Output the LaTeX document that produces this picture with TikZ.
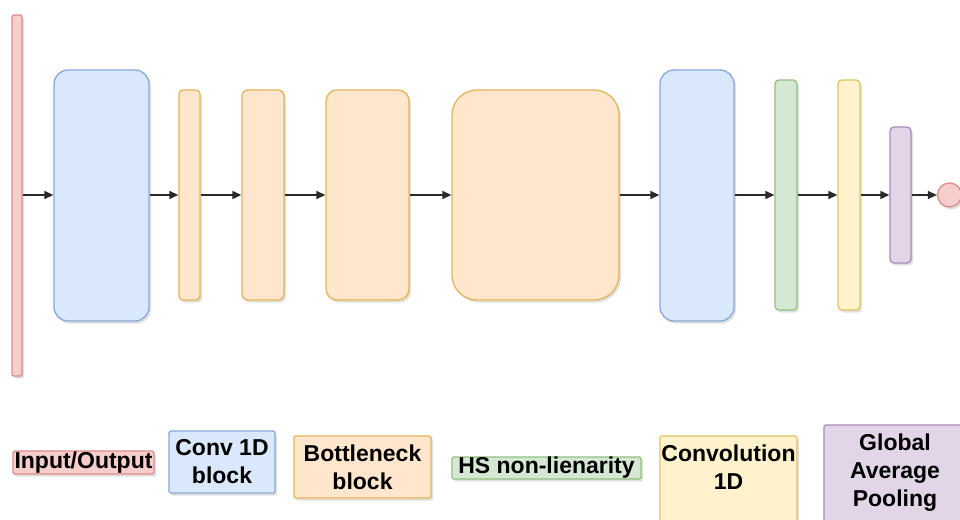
\documentclass[tikz,border=0pt]{standalone}
\usepackage{fontspec}
\setmainfont{Liberation Sans}
\usetikzlibrary{arrows.meta,shadows}
\definecolor{redF}{HTML}{F8CECC}\definecolor{redD}{HTML}{D98C8C}
\definecolor{bluF}{HTML}{DAE8FC}\definecolor{bluD}{HTML}{8AA8D6}
\definecolor{orgF}{HTML}{FFE6CC}\definecolor{orgD}{HTML}{E3B55A}
\definecolor{grnF}{HTML}{D5E8D4}\definecolor{grnD}{HTML}{92C07E}
\definecolor{ylwF}{HTML}{FFF2CC}\definecolor{ylwD}{HTML}{E0C465}
\definecolor{purF}{HTML}{E1D5E7}\definecolor{purD}{HTML}{A68BB8}
\definecolor{arr}{HTML}{2A2A2A}
\begin{document}
\begin{tikzpicture}[x=1pt,y=-1pt,
  blk/.style={draw, line width=1.3pt, inner sep=0pt, rectangle,
    drop shadow={shadow xshift=2pt, shadow yshift=-2.5pt, opacity=0.12, fill=black}},
  redS/.style={blk, fill=redF, draw=redD},
  bluS/.style={blk, fill=bluF, draw=bluD},
  orgS/.style={blk, fill=orgF, draw=orgD},
  grnS/.style={blk, fill=grnF, draw=grnD},
  ylwS/.style={blk, fill=ylwF, draw=ylwD},
  purS/.style={blk, fill=purF, draw=purD},
  sz/.style 2 args={minimum width=#1pt, minimum height=#2pt},
  flow/.style={draw=arr, line width=1.3pt, -{Triangle[length=9pt,width=8pt]}},
  lab/.style={font=\fontsize{23}{28}\selectfont\bfseries, align=center, inner sep=0pt, text=black}
]
\useasboundingbox (0,0) rectangle (960,519);
\clip (0,0) rectangle (960,519);
\fill[white] (0,0) rectangle (960,519);

% main chain
\node[redS, sz={10}{361}, rounded corners=2pt] (inp) at (17,195.5) {};
\node[bluS, sz={95}{251}, rounded corners=14pt] (c1) at (101.5,195.5) {};
\node[orgS, sz={21}{210}, rounded corners=4pt] (b1) at (189.5,195) {};
\node[orgS, sz={42}{210}, rounded corners=6pt] (b2) at (263,195) {};
\node[orgS, sz={83}{210}, rounded corners=11pt] (b3) at (367.5,195) {};
\node[orgS, sz={167}{210}, rounded corners=25pt] (b4) at (535.5,195) {};
\node[bluS, sz={74}{251}, rounded corners=14pt] (c2) at (697,195.5) {};
\node[grnS, sz={22}{230}, rounded corners=4pt] (hs) at (786,195) {};
\node[ylwS, sz={22}{230}, rounded corners=4pt] (cv) at (849,195) {};
\node[purS, sz={21}{136}, rounded corners=4pt] (gp) at (900.5,195) {};
\node[redS, circle, minimum size=24pt] (out) at (949.5,195) {};

\draw[flow] (inp.east |- 0,195) -- (c1.west |- 0,195);
\draw[flow] (c1.east |- 0,195) -- (b1.west |- 0,195);
\draw[flow] (b1.east) -- (b2.west);
\draw[flow] (b2.east) -- (b3.west);
\draw[flow] (b3.east) -- (b4.west);
\draw[flow] (b4.east) -- (c2.west |- 0,195);
\draw[flow] (c2.east |- 0,195) -- (hs.west);
\draw[flow] (hs.east) -- (cv.west);
\draw[flow] (cv.east) -- (gp.west);
\draw[flow] (gp.east) -- (out.west);

% legend
\node[redS, sz={141}{23}, rounded corners=1.5pt] (lio) at (83.5,462.5) {};
\node[lab] at (lio) {Input/Output};
\node[bluS, sz={106}{62}, rounded corners=1.5pt] (lc1) at (222,462) {};
\node[lab] at (lc1) {Conv 1D\\block};
\node[orgS, sz={137}{62}, rounded corners=1.5pt] (lbn) at (362.5,467) {};
\node[lab] at (lbn) {Bottleneck\\block};
\node[grnS, sz={189}{22}, rounded corners=1.5pt] (lhs) at (546.5,468) {};
\node[lab] at (lhs) {HS non-lienarity};
\node[ylwS, sz={137}{110}, rounded corners=1.5pt] (lcv) at (728.5,491) {};
\node[lab] at (728.5,467) {Convolution\\1D};
\node[purS, sz={142}{120}, rounded corners=1.5pt] (lgp) at (895,485) {};
\node[lab] at (895,473) {Global\\Average\\Pooling};
\end{tikzpicture}
\end{document}
